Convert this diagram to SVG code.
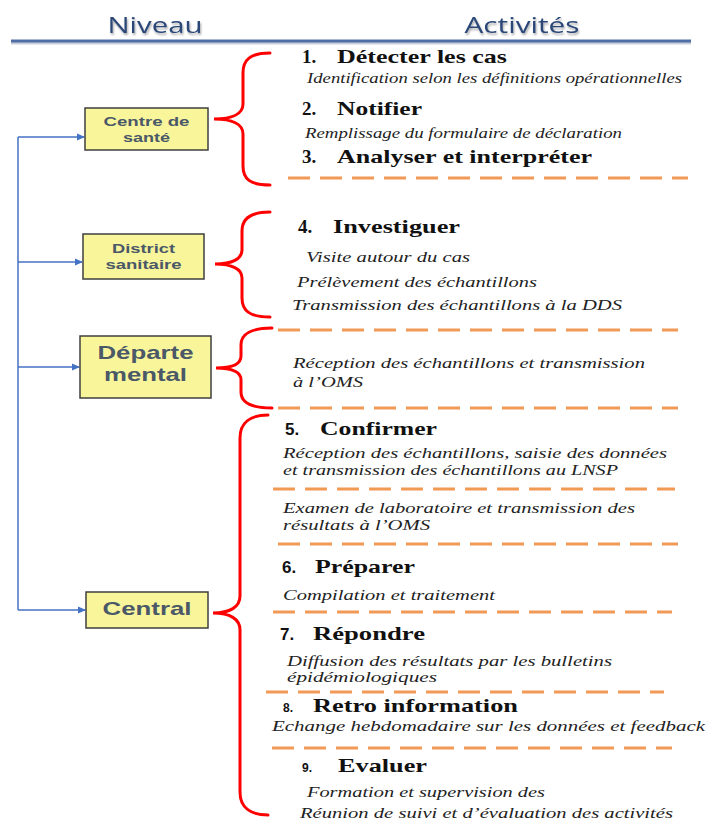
<svg xmlns="http://www.w3.org/2000/svg" width="709" height="820" viewBox="0 0 709 820">
<defs>
<marker id="arr" markerWidth="8" markerHeight="8" refX="7" refY="4" orient="auto" markerUnits="userSpaceOnUse">
<path d="M0,0.5 L8,4 L0,7.5 Z" fill="#4472C4"/>
</marker>
<filter id="sh" x="-10%" y="-30%" width="120%" height="160%">
<feGaussianBlur in="SourceAlpha" stdDeviation="1"/>
<feOffset dx="1" dy="1.5" result="b"/>
<feComponentTransfer><feFuncA type="linear" slope="0.35"/></feComponentTransfer>
<feMerge><feMergeNode/><feMergeNode in="SourceGraphic"/></feMerge>
</filter>
</defs>
<style>
.hdr{font-size:22px;fill:#2B4778;text-anchor:middle}
.box{fill:#F9F59A;stroke:#3F3F3F;stroke-width:1.5}
.bt{font-weight:bold;fill:#4A5868;text-anchor:middle}
.h{font-weight:bold;font-size:19px;fill:#111}
.hs{font-weight:bold;font-size:17px;fill:#111}
.n{font-weight:bold;font-size:12px;fill:#111}
.it{font-style:italic;font-size:15.5px;fill:#222}
.brace{fill:none;stroke:#FF0000;stroke-width:3;stroke-linecap:round}
.dash{stroke:#F19A56;stroke-width:3;stroke-dasharray:22 10;fill:none}
.conn{stroke:#4472C4;stroke-width:1.5;fill:none}
</style>
<rect width="709" height="820" fill="#FFFFFF"/>

<g id="header" font-family="Open Sans, Liberation Sans, sans-serif">
<text class="hdr" x="155" y="33" textLength="95" lengthAdjust="spacingAndGlyphs" filter="url(#sh)">Niveau</text>
<text class="hdr" x="522" y="33" textLength="115" lengthAdjust="spacingAndGlyphs" filter="url(#sh)">Activités</text>
<line x1="11" y1="43" x2="691" y2="43" stroke="#C9CFDA" stroke-width="3"/>
<line x1="11" y1="41" x2="691" y2="41" stroke="#4F6EA8" stroke-width="3"/>
</g>

<g id="connectors">
<path class="conn" d="M18,137 L18,610"/>
<line class="conn" x1="18" y1="137" x2="84" y2="137" marker-end="url(#arr)"/>
<line class="conn" x1="18" y1="262" x2="82" y2="262" marker-end="url(#arr)"/>
<line class="conn" x1="18" y1="367" x2="79" y2="367" marker-end="url(#arr)"/>
<line class="conn" x1="18" y1="610" x2="85" y2="610" marker-end="url(#arr)"/>
</g>

<g id="centre-sante" font-family="Liberation Sans, Arial, sans-serif">
<rect class="box" x="85" y="108" width="123" height="42"/>
<text class="bt" x="146.5" y="126" font-size="13" textLength="86" lengthAdjust="spacingAndGlyphs">Centre de</text>
<text class="bt" x="146.5" y="142" font-size="13" textLength="47" lengthAdjust="spacingAndGlyphs">santé</text>
</g>

<g id="district-sanitaire" font-family="Liberation Sans, Arial, sans-serif">
<rect class="box" x="83" y="234" width="121" height="45"/>
<text class="bt" x="143.5" y="253" font-size="13" textLength="63" lengthAdjust="spacingAndGlyphs">District</text>
<text class="bt" x="143.5" y="269" font-size="13" textLength="76" lengthAdjust="spacingAndGlyphs">sanitaire</text>
</g>

<g id="departemental" font-family="Liberation Sans, Arial, sans-serif">
<rect class="box" x="80" y="336" width="131" height="62"/>
<text class="bt" x="145.5" y="359" font-size="19" textLength="96" lengthAdjust="spacingAndGlyphs">Départe</text>
<text class="bt" x="145.5" y="381" font-size="19" textLength="83" lengthAdjust="spacingAndGlyphs">mental</text>
</g>

<g id="central" font-family="Liberation Sans, Arial, sans-serif">
<rect class="box" x="86" y="592" width="122" height="36"/>
<text class="bt" x="147" y="615" font-size="19" textLength="89" lengthAdjust="spacingAndGlyphs">Central</text>
</g>

<g id="braces">
<path class="brace" d="M270,53 C250,53 243,60 243,73 L243,104 C243,114 232,119 214,119 C232,119 243,124 243,134 L243,166 C243,179 250,185 270,185"/>
<path class="brace" d="M270,212 C250,212 242,219 242,231 L242,250 C242,259 232,264 215,264 C232,264 242,269 242,278 L242,298 C242,311 250,317 270,317"/>
<path class="brace" d="M272,328 C252,328 241,334 241,345 L241,356 C241,364 232,368 216,368 C232,368 241,372 241,380 L241,392 C241,403 252,408 272,408"/>
<path class="brace" d="M268,415 C250,415 240,423 240,438 L240,596 C240,607 230,613 213,613 C230,613 240,619 240,630 L240,792 C240,807 250,815 268,815"/>
</g>

<g id="dividers">
<line class="dash" x1="288" y1="178" x2="688" y2="178"/>
<line class="dash" x1="278" y1="330" x2="678" y2="330"/>
<line class="dash" x1="278" y1="408" x2="678" y2="408"/>
<line class="dash" x1="273" y1="489" x2="675" y2="489"/>
<line class="dash" x1="278" y1="544" x2="678" y2="544"/>
<line class="dash" x1="273" y1="612" x2="672" y2="612"/>
<line class="dash" x1="266" y1="692" x2="664" y2="692"/>
<line class="dash" x1="272" y1="748" x2="672" y2="748"/>
</g>

<g id="activites-centre-sante" font-family="Liberation Serif, Times New Roman, serif">
<text class="h" x="302" y="63">1.</text>
<text class="h" x="337" y="63" textLength="170" lengthAdjust="spacingAndGlyphs">Détecter les cas</text>
<text class="it" x="307" y="83" textLength="375" lengthAdjust="spacingAndGlyphs">Identification selon les définitions opérationnelles</text>
<text class="h" x="302" y="115">2.</text>
<text class="h" x="337" y="115" textLength="85" lengthAdjust="spacingAndGlyphs">Notifier</text>
<text class="it" x="305" y="138" textLength="317" lengthAdjust="spacingAndGlyphs">Remplissage du formulaire de déclaration</text>
<text class="h" x="302" y="163">3.</text>
<text class="h" x="337" y="163" textLength="255" lengthAdjust="spacingAndGlyphs">Analyser et interpréter</text>
</g>

<g id="activites-district" font-family="Liberation Serif, Times New Roman, serif">
<text class="h" x="298" y="233">4.</text>
<text class="h" x="333" y="233" textLength="127" lengthAdjust="spacingAndGlyphs">Investiguer</text>
<text class="it" x="306" y="262" textLength="164" lengthAdjust="spacingAndGlyphs">Visite autour du cas</text>
<text class="it" x="297" y="287" textLength="240" lengthAdjust="spacingAndGlyphs">Prélèvement des échantillons</text>
<text class="it" x="292" y="310" textLength="330" lengthAdjust="spacingAndGlyphs">Transmission des échantillons à la DDS</text>
</g>

<g id="activites-departemental" font-family="Liberation Serif, Times New Roman, serif">
<text class="it" x="293" y="368" textLength="352" lengthAdjust="spacingAndGlyphs">Réception des échantillons et transmission</text>
<text class="it" x="293" y="387" textLength="70" lengthAdjust="spacingAndGlyphs">à l’OMS</text>
</g>

<g id="activites-central" font-family="Liberation Serif, Times New Roman, serif">
<text class="hs" x="285" y="435" font-family="Liberation Sans, Arial, sans-serif">5.</text>
<text class="h" x="320" y="435" textLength="117" lengthAdjust="spacingAndGlyphs">Confirmer</text>
<text class="it" x="283" y="458" textLength="384" lengthAdjust="spacingAndGlyphs">Réception des échantillons, saisie des données</text>
<text class="it" x="283" y="475" textLength="335" lengthAdjust="spacingAndGlyphs">et transmission des échantillons au LNSP</text>
<text class="it" x="283" y="513" textLength="352" lengthAdjust="spacingAndGlyphs">Examen de laboratoire et transmission des</text>
<text class="it" x="283" y="530" textLength="147" lengthAdjust="spacingAndGlyphs">résultats à l’OMS</text>
<text class="hs" x="282" y="573" font-family="Liberation Sans, Arial, sans-serif">6.</text>
<text class="h" x="315" y="573" textLength="100" lengthAdjust="spacingAndGlyphs">Préparer</text>
<text class="it" x="283" y="600" textLength="212" lengthAdjust="spacingAndGlyphs">Compilation et traitement</text>
<text class="hs" x="280" y="640" font-family="Liberation Sans, Arial, sans-serif">7.</text>
<text class="h" x="313" y="640" textLength="112" lengthAdjust="spacingAndGlyphs">Répondre</text>
<text class="it" x="287" y="666" textLength="325" lengthAdjust="spacingAndGlyphs">Diffusion des résultats par les bulletins</text>
<text class="it" x="287" y="682" textLength="150" lengthAdjust="spacingAndGlyphs">épidémiologiques</text>
<text class="n" x="283" y="712" font-family="Liberation Sans, Arial, sans-serif">8.</text>
<text class="h" x="313" y="712" textLength="205" lengthAdjust="spacingAndGlyphs">Retro information</text>
<text class="it" x="272" y="731" textLength="433" lengthAdjust="spacingAndGlyphs">Echange hebdomadaire sur les données et feedback</text>
<text class="n" x="302" y="772" font-family="Liberation Sans, Arial, sans-serif">9.</text>
<text class="h" x="338" y="772" textLength="89" lengthAdjust="spacingAndGlyphs">Evaluer</text>
<text class="it" x="307" y="797" textLength="238" lengthAdjust="spacingAndGlyphs">Formation et supervision des</text>
<text class="it" x="300" y="818" textLength="373" lengthAdjust="spacingAndGlyphs">Réunion de suivi et d’évaluation des activités</text>
</g>
</svg>
